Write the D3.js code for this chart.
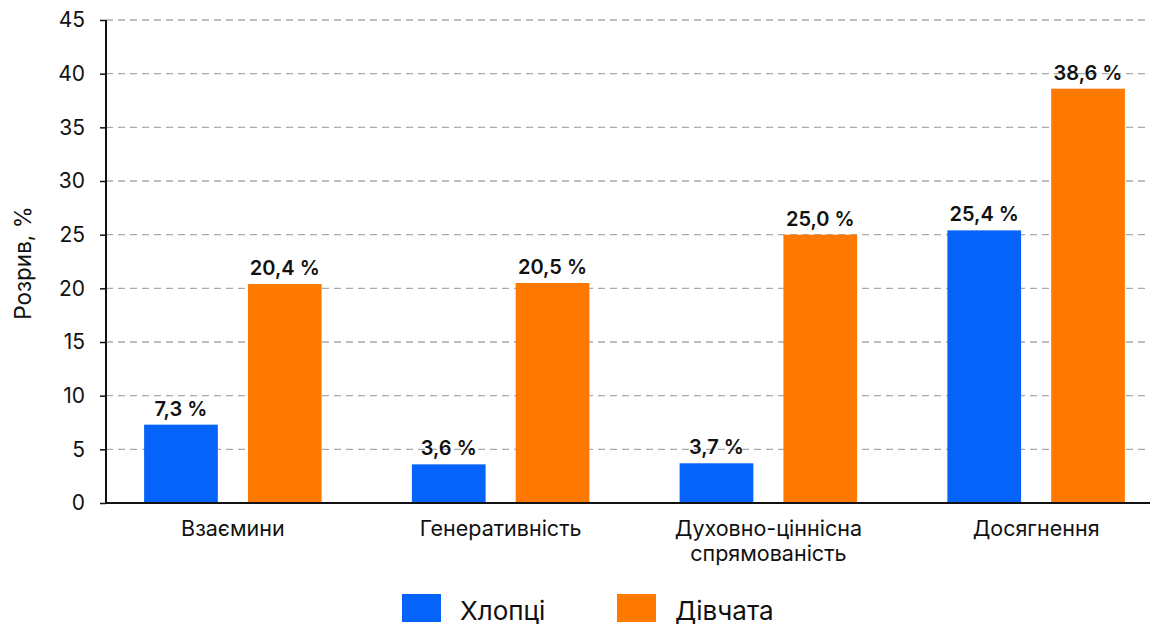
<!DOCTYPE html>
<html>
<head>
<meta charset="utf-8">
<script src="https://cdn.jsdelivr.net/npm/d3@7"></script>
<style>
  html, body { margin: 0; padding: 0; background: #fff; }
  svg { display: block; font-family: Inter, "Noto Sans", sans-serif; }
</style>
</head>
<body>
<svg id="chart" width="1155" height="625"></svg>
<script>
// Gap by domain, percent
const categories = [["Взаємини"], ["Генеративність"], ["Духовно-ціннісна", "спрямованість"], ["Досягнення"]];
const seriesNames = ["Хлопці", "Дівчата"];
const boys = [7.3, 3.6, 3.7, 25.4];
const girls = [20.4, 20.5, 25.0, 38.6];
const yTicks = [0, 5, 10, 15, 20, 25, 30, 35, 40, 45];
const colors = ["#0563fa", "#ff7800"];

const svg = d3.select("#chart");
const plotLeft = 106, plotRight = 1150, plotTop = 20, plotBottom = 503;

const y = d3.scaleLinear().domain([0, 45]).range([plotBottom, plotTop]);
const x0 = d3.scaleBand().domain(d3.range(categories.length))
  .range([99, 1170]).paddingInner(0.337).paddingOuter(0.1685);
const x1 = d3.scaleBand().domain(seriesNames)
  .range([0, x0.bandwidth()]).paddingInner(0.29);

// gridlines
svg.append("g").selectAll("line").data(yTicks.filter(d => d > 0)).join("line")
  .attr("x1", plotLeft).attr("x2", plotRight)
  .attr("y1", d => y(d)).attr("y2", d => y(d))
  .attr("stroke", "#ababab").attr("stroke-width", 1.3)
  .attr("stroke-dasharray", "7,5");

// y axis
const yAxis = svg.append("g").attr("transform", `translate(${plotLeft},0)`)
  .call(d3.axisLeft(y).tickValues(yTicks).tickSize(6).tickPadding(15));
yAxis.select(".domain").remove();
yAxis.selectAll(".tick line").attr("stroke", "#111").attr("stroke-width", 1.5);
yAxis.selectAll(".tick text").attr("fill", "#111").style("font-size", "21px")
  .style("font-family", "Inter, sans-serif");
svg.append("line").attr("x1", plotLeft).attr("x2", plotLeft).attr("y1", plotTop).attr("y2", plotBottom + 1)
  .attr("stroke", "#111").attr("stroke-width", 2);

// bars
const rows = categories.map((c, i) => [
  { key: seriesNames[0], value: boys[i], i },
  { key: seriesNames[1], value: girls[i], i }
]);
const groups = svg.append("g").selectAll("g").data(rows).join("g")
  .attr("transform", (d, i) => `translate(${x0(i)},0)`);
groups.selectAll("rect").data(d => d).join("rect")
  .attr("x", d => x1(d.key)).attr("width", x1.bandwidth())
  .attr("y", d => y(d.value)).attr("height", d => y(0) - y(d.value))
  .attr("fill", (d, j) => colors[j]);
groups.selectAll("text").data(d => d).join("text")
  .attr("x", d => x1(d.key) + x1.bandwidth() / 2)
  .attr("y", d => y(d.value) - 9)
  .attr("text-anchor", "middle")
  .attr("fill", "#111")
  .style("font-size", "20px").style("font-weight", 600)
  .text(d => d3.format(".1f")(d.value).replace(".", ",") + " %");

// x axis baseline
svg.append("line").attr("x1", plotLeft - 1).attr("x2", plotRight).attr("y1", plotBottom).attr("y2", plotBottom)
  .attr("stroke", "#111").attr("stroke-width", 2);

// category labels
const catText = svg.append("g").selectAll("text").data(categories).join("text")
  .attr("text-anchor", "middle").attr("fill", "#111").style("font-size", "21.5px")
  .attr("transform", (d, i) => `translate(${x0(i) + x0.bandwidth() / 2},${plotBottom + 33})`);
catText.selectAll("tspan").data(d => d).join("tspan")
  .attr("x", 0).attr("dy", (d, k) => k === 0 ? 0 : 25).text(d => d);

// y axis title
svg.append("text").attr("transform", `translate(31,263) rotate(-90)`)
  .attr("text-anchor", "middle").attr("fill", "#111").style("font-size", "22.5px")
  .text("Розрив, %");

// legend
const legend = svg.append("g").selectAll("g").data(seriesNames).join("g")
  .attr("transform", (d, i) => `translate(${402 + i * 215},594)`);
legend.append("rect").attr("width", 39).attr("height", 28).attr("fill", (d, i) => colors[i]);
legend.append("text").attr("x", 58).attr("y", 26).attr("fill", "#111")
  .style("font-size", "26px").text(d => d);
</script>
</body>
</html>
